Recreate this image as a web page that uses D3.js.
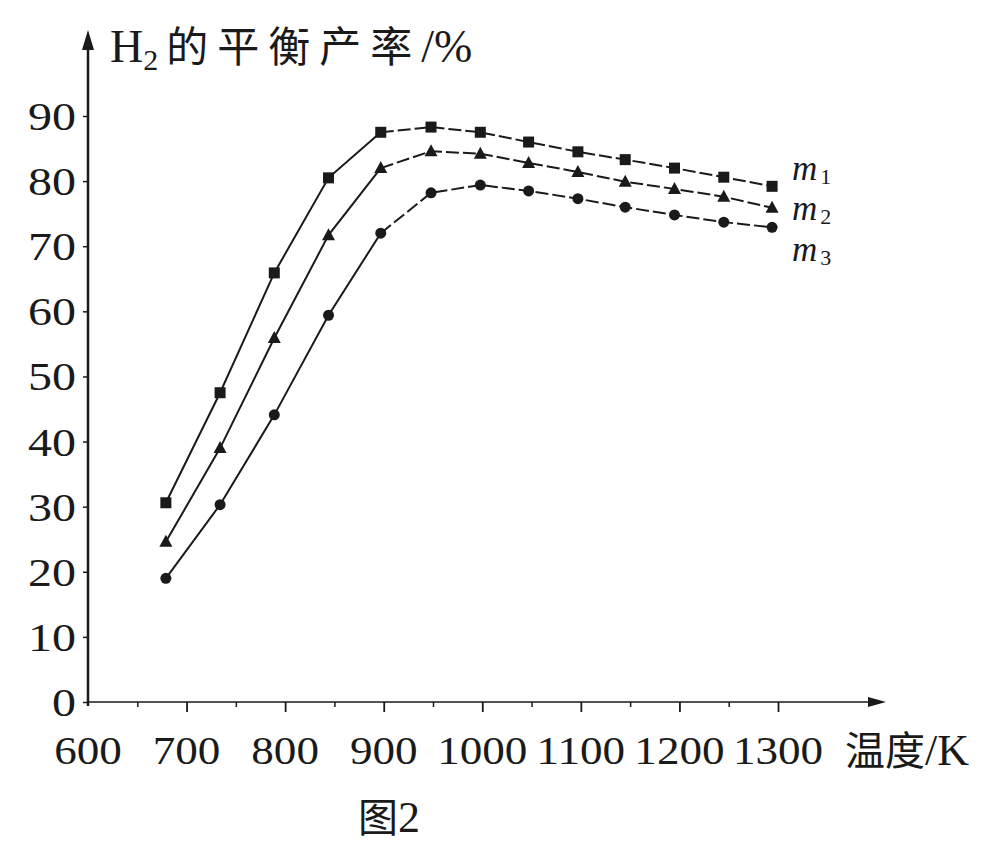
<!DOCTYPE html>
<html><head><meta charset="utf-8">
<script src="https://cdn.jsdelivr.net/npm/d3@7"></script>
<style>body{margin:0;background:#fff}svg{display:block}</style>
</head><body><svg id="c" width="994" height="843"></svg>
<script>
// ---- data ----
const temps = [679, 734, 789, 844, 897, 948, 998, 1047, 1097, 1145, 1195, 1245, 1294];
const m1 = [30.6, 47.5, 65.9, 80.5, 87.5, 88.3, 87.5, 86.0, 84.5, 83.3, 82.0, 80.6, 79.2];
const m2 = [24.6, 39.0, 55.9, 71.7, 82.0, 84.6, 84.2, 82.8, 81.4, 79.9, 78.8, 77.6, 75.9];
const m3 = [19.0, 30.3, 44.1, 59.4, 72.0, 78.2, 79.4, 78.5, 77.3, 76.0, 74.8, 73.7, 72.9];
const seriesNames = ["m1", "m2", "m3"];
const seriesSubs = ["1", "2", "3"];
const xTickLabels = [600, 700, 800, 900, 1000, 1100, 1200, 1300];
const xMinorTicks = [650, 750, 850, 950, 1050, 1150, 1250];
const yTickLabels = [0, 10, 20, 30, 40, 50, 60, 70, 80, 90];

const svg = d3.select("#c");
const ink = "#1a1a1a";
const serif = "'Liberation Serif','Times New Roman','DejaVu Serif',serif";
const cjk = "'Noto Sans CJK SC','Noto Sans CJK JP',sans-serif";

const x = d3.scaleLinear().domain([600, 1300]).range([88, 778]);
const y = d3.scaleLinear().domain([0, 90]).range([702, 116]);

// axes lines with arrows
svg.append("line").attr("x1", x(600)).attr("y1", y(0) + 4).attr("x2", x(600)).attr("y2", 44)
  .attr("stroke", ink).attr("stroke-width", 2.5);
svg.append("path").attr("d", `M${x(600)},30 L${x(600)-6},50 L${x(600)+6},50 Z`).attr("fill", ink);
svg.append("line").attr("x1", x(600)).attr("y1", y(0)).attr("x2", 872).attr("y2", y(0))
  .attr("stroke", ink).attr("stroke-width", 1.5);
svg.append("path").attr("d", `M886,${y(0)} L868,${y(0)-5} L868,${y(0)+5} Z`).attr("fill", ink);

// x ticks
const xAxis = d3.axisBottom(x).tickValues(xTickLabels.slice(1)).tickSize(10).tickFormat("");
const gx = svg.append("g").attr("transform", `translate(0,${y(0)})`).call(xAxis);
gx.select(".domain").remove();
gx.selectAll(".tick line").attr("stroke", ink).attr("stroke-width", 1.8);
const gx2 = svg.append("g").attr("transform", `translate(0,${y(0)})`)
  .call(d3.axisBottom(x).tickValues(xMinorTicks).tickSize(5).tickFormat(""));
gx2.select(".domain").remove();
gx2.selectAll(".tick line").attr("stroke", ink).attr("stroke-width", 1.5);

svg.append("g").selectAll("text").data(xTickLabels).join("text")
  .attr("x", d => x(d)).attr("y", 764).attr("text-anchor", "middle")
  .attr("font-family", serif).attr("font-size", 41).attr("fill", ink)
  .attr("transform", d => `translate(${x(d)},0) scale(1.1,1) translate(${-x(d)},0)`)
  .text(d => d);

// y ticks
const gy = svg.append("g").attr("transform", `translate(${x(600)},0)`)
  .call(d3.axisLeft(y).tickValues(yTickLabels).tickSize(5).tickFormat(""));
gy.select(".domain").remove();
gy.selectAll(".tick line").attr("stroke", ink).attr("stroke-width", 1.5);
svg.append("g").selectAll("text").data(yTickLabels).join("text")
  .attr("x", 76).attr("y", d => y(d) + 14).attr("text-anchor", "end")
  .attr("font-family", serif).attr("font-size", 40).attr("fill", ink)
  .attr("transform", `translate(76,0) scale(1.2,1) translate(-76,0)`)
  .text(d => d);

// axis titles
const yt = svg.append("text").attr("x", 110).attr("y", 62).attr("fill", ink);
yt.append("tspan").attr("font-family", serif).attr("font-size", 46).text("H");
yt.append("tspan").attr("font-family", serif).attr("font-size", 30).attr("dy", 8).text("2");
yt.append("tspan").attr("font-family", cjk).attr("font-size", 42).attr("dy", -8).attr("dx", 8)
  .attr("letter-spacing", 9).text("的平衡产率");
yt.append("tspan").attr("font-family", serif).attr("font-size", 46).text("/%");

const xt = svg.append("text").attr("x", 845).attr("y", 765).attr("fill", ink);
xt.append("tspan").attr("font-family", cjk).attr("font-size", 40).text("温度");
xt.append("tspan").attr("font-family", serif).attr("font-size", 44).text("/K");

const cap = svg.append("text").attr("x", 358).attr("y", 832).attr("fill", ink);
cap.append("tspan").attr("font-family", cjk).attr("font-size", 40).text("图");
cap.append("tspan").attr("font-family", serif).attr("font-size", 44).text("2");

// series
const allSeries = [m1, m2, m3];
const line = d3.line().x(d => x(d[0])).y(d => y(d[1]));
const splitIdx = 4;
allSeries.forEach((vals, si) => {
  const pts = temps.map((t, i) => [t, vals[i]]);
  svg.append("path").attr("d", line(pts.slice(0, splitIdx + 1)))
    .attr("fill", "none").attr("stroke", ink).attr("stroke-width", 2);
  svg.append("path").attr("d", line(pts.slice(splitIdx)))
    .attr("fill", "none").attr("stroke", ink).attr("stroke-width", 2)
    .attr("stroke-dasharray", "13,4");
  const g = svg.append("g");
  pts.forEach(p => {
    const cx = x(p[0]), cy = y(p[1]);
    if (si === 0) {
      g.append("rect").attr("x", cx - 5.5).attr("y", cy - 5.5).attr("width", 11).attr("height", 11).attr("fill", ink);
    } else if (si === 1) {
      g.append("path").attr("d", `M${cx},${cy-7} L${cx-6.5},${cy+5} L${cx+6.5},${cy+5} Z`).attr("fill", ink);
    } else {
      g.append("circle").attr("cx", cx).attr("cy", cy).attr("r", 5.5).attr("fill", ink);
    }
  });
});

// series labels
const labY = [180, 220, 261];
seriesNames.forEach((n, i) => {
  const t = svg.append("text").attr("x", 792).attr("y", labY[i]).attr("fill", ink).attr("font-family", serif);
  t.append("tspan").attr("font-style", "italic").attr("font-size", 35).text("m");
  t.append("tspan").attr("font-size", 22).attr("dy", 4).attr("dx", 3).text(seriesSubs[i]);
});
</script></body></html>
